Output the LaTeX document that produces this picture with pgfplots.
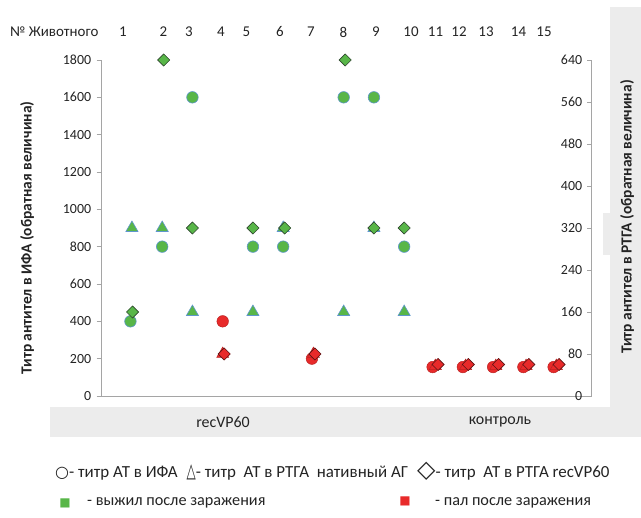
\documentclass[border=0pt]{standalone}
\usepackage{graphicx}
\usepackage{pgfplots}
\pgfplotsset{compat=1.18}
\usepackage{fontspec}
\setmainfont{Carlito}
\newfontfamily\djv{DejaVu Sans}
\definecolor{grn}{RGB}{88,182,72}
\definecolor{red1}{RGB}{232,42,42}
\definecolor{blueedge}{RGB}{95,150,205}
\definecolor{darkedge}{RGB}{45,70,45}
\definecolor{darkred}{RGB}{90,20,20}
\definecolor{axgray}{RGB}{165,165,165}
\definecolor{bandgray}{RGB}{236,236,236}
\definecolor{txt}{RGB}{35,35,35}
\newcommand{\fs}[1]{\fontsize{#1}{#1}\selectfont}
\begin{document}
\begin{tikzpicture}[x=1bp,y=1bp]
\useasboundingbox (0,0) rectangle (641,518);
\fill[bandgray] (610,81) rectangle (641,511);
\fill[bandgray] (50,81) rectangle (641,111);
\fill[bandgray] (603,263) rectangle (610,305);

\pgfplotsset{
  base/.style={at={(101.7bp,122bp)}, anchor=south west, scale only axis,
    width=490bp, height=336bp, xmin=0, xmax=16.2, clip=false,
    axis line style={axgray, line width=0.9pt, -},
    tick style={axgray, line width=0.8pt}, major tick length=5bp,
    /pgf/number format/assume math mode=true,
    tick label style={font=\fs{14}, text=txt}},
}

\begin{axis}[base, ymin=0, ymax=1800,
  axis y line*=left, axis x line*=bottom, xtick=\empty,
  ytick={0,200,...,1800}, tick align=outside,
  yticklabel style={xshift=-2bp},
  /pgf/number format/.cd, 1000 sep={}]
\addplot[only marks, mark=*, mark size=5.8pt,
  mark options={fill=grn, draw=blueedge, line width=0.6pt}]
  coordinates {(0.95,400) (2,800) (3,1600) (5,800) (6,800) (8,1600) (9,1600) (10,800)};
\addplot[only marks, mark=*, mark size=5.8pt,
  mark options={fill=red1, draw=red1!80!black, line width=0.5pt}]
  coordinates {(4,400) (6.95,200) (10.94,155) (11.94,155) (12.94,155) (13.94,155) (14.94,155)};
\end{axis}

\begin{axis}[base, ymin=0, ymax=640,
  axis y line*=right, axis x line=none,
  ytick={0,80,...,640}, tick align=inside,
  yticklabel style={anchor=east, xshift=-6bp}]
\addplot[only marks, mark=triangle*, mark size=7pt,
  mark options={fill=grn, draw=blueedge, line width=0.6pt}]
  coordinates {(1,320) (2,320) (3,160) (5,160) (6,320) (8,160) (9,320) (10,160)};
\addplot[only marks, mark=triangle*, mark size=7pt,
  mark options={fill=red1, draw=red1!80!black, line width=0.5pt}]
  coordinates {(4,80) (7,80) (11.03,57) (12.03,57) (13.03,57) (14.03,57) (15.03,57)};
\addplot[only marks, mark=square*, mark size=4.3pt,
  mark options={rotate=45, fill=grn, draw=darkedge, line width=0.6pt}]
  coordinates {(1.02,160) (2.05,640) (3,320) (5,320) (6.05,320) (8.05,640) (9,320) (10,320)};
\addplot[only marks, mark=square*, mark size=4.3pt,
  mark options={rotate=45, fill=red1, draw=darkred, line width=0.6pt}]
  coordinates {(4.05,80) (7.05,80) (11.12,60) (12.12,60) (13.12,60) (14.12,60) (15.12,60)};
\end{axis}

% top labels
\begin{scope}[every node/.style={font=\fs{15}, text=txt, inner sep=0pt}]
\node[anchor=west] at (10,486) {№ Животного};
\foreach \n/\px in {1/123,2/163.5,3/189,4/221,5/246.5,6/280,7/311,8/343.5,9/376,10/411,11/435.5,12/459,13/486,14/518.5,15/544}
  \node at (\px,486) {\n};
\node at (223,96) {\fs{16}recVP60};
\node at (500,96) {\fs{16}контроль};
\node[rotate=90, font=\fs{15.5}\bfseries] at (27,280) {Титр антител в ИФА (обратная величина)};
\node[rotate=90, font=\fs{15.5}\bfseries] at (627,301) {Титр антител в РТГА (обратная величина)};
% legend
\node[anchor=west, font=\fs{17}] at (55,47) {{\djv\fs{16}○}- титр АТ в ИФА\hspace{9bp}{\djv\fs{16}\scalebox{0.75}[1.25]{△}}- титр\ \ АТ в РТГА\ \ нативный АГ\hspace{9bp}{\djv\fs{24}◇}- титр\ \ АТ в РТГА recVP60};
\node[text=grn] at (65,15) {\djv\fs{12}■};
\node[anchor=west, font=\fs{16.3}] at (87,15) {- выжил после заражения};
\node[text=red1] at (405,17) {\djv\fs{12}■};
\node[anchor=west, font=\fs{16.3}] at (435,15) {- пал после заражения};
\end{scope}
\end{tikzpicture}
\end{document}
